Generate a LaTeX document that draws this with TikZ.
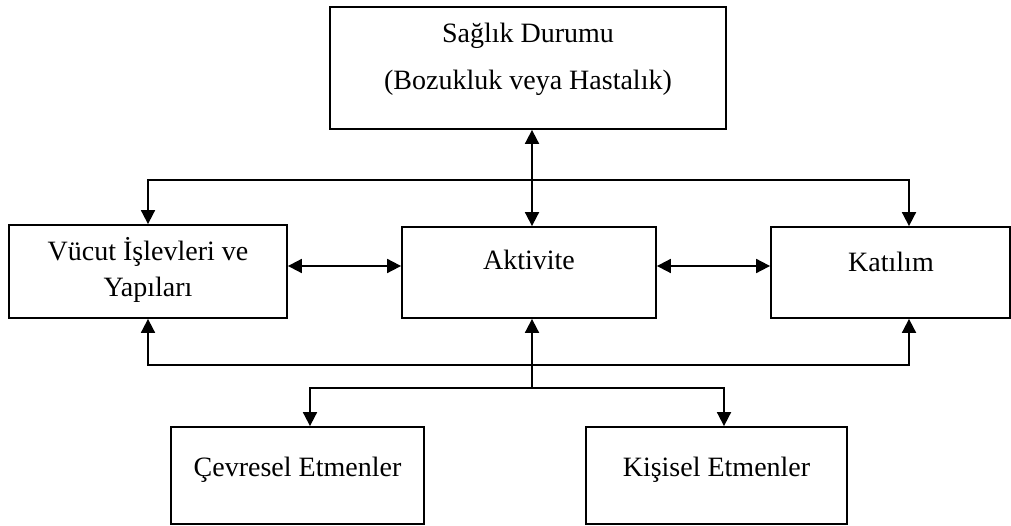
\documentclass[tikz,border=0pt]{standalone}
\usepackage{fontspec}
\setmainfont{Liberation Serif}
\usetikzlibrary{arrows.meta}
\begin{document}
\begin{tikzpicture}[x=1pt,y=-1pt,
  box/.style={draw, line width=1.8pt, inner sep=0pt},
  lbl/.style={font=\fontsize{28}{34}\selectfont, inner sep=0pt, anchor=base},
  conn/.style={line width=1.8pt},
  >={Triangle[length=14pt,width=14pt]}]
\useasboundingbox (0,0) rectangle (1011,526);
% boxes
\node[box, minimum width=396pt, minimum height=122pt] (health) at (528,68) {};
\node[lbl] (health1) at (528,43) {Sağlık Durumu};
\node[lbl] (health2) at (528,90) {(Bozukluk veya Hastalık)};
\node[box, minimum width=278pt, minimum height=93pt] (body) at (148,271.5) {};
\node[lbl] (body1) at (148,261) {Vücut İşlevleri ve};
\node[lbl] (body2) at (148,297) {Yapıları};
\node[box, minimum width=254pt, minimum height=91pt] (act) at (529,272.5) {};
\node[lbl] (act1) at (529,270) {Aktivite};
\node[box, minimum width=239pt, minimum height=91pt] (part) at (890.5,272.5) {};
\node[lbl] (part1) at (891,272) {Katılım};
\node[box, minimum width=253pt, minimum height=97pt] (env) at (297.5,475.5) {};
\node[lbl] (env1) at (297.5,476) {Çevresel Etmenler};
\node[box, minimum width=261pt, minimum height=97pt] (pers) at (716.5,475.5) {};
\node[lbl] (pers1) at (716.5,476) {Kişisel Etmenler};
% connectors
\coordinate (tl) at (148,180);
\coordinate (tr) at (909,180);
\draw[conn,<->] (tl |- body.north) -- (tl) -- (tr) -- (tr |- part.north);
\coordinate (hv) at (532,0);
\draw[conn,<->] (hv |- health.south) -- (hv |- act.north);
\coordinate (mh) at (0,266);
\draw[conn,<->] (body.east |- mh) -- (act.west |- mh);
\draw[conn,<->] (act.east |- mh) -- (part.west |- mh);
\coordinate (bl) at (148,365);
\coordinate (br) at (909,365);
\draw[conn,<->] (bl |- body.south) -- (bl) -- (br) -- (br |- part.south);
\coordinate (j) at (532,388);
\draw[conn,->] (j) -- (j |- act.south);
\coordinate (el) at (310,388);
\coordinate (er) at (724,388);
\draw[conn,<->] (el |- env.north) -- (el) -- (er) -- (er |- pers.north);
\end{tikzpicture}
\end{document}
